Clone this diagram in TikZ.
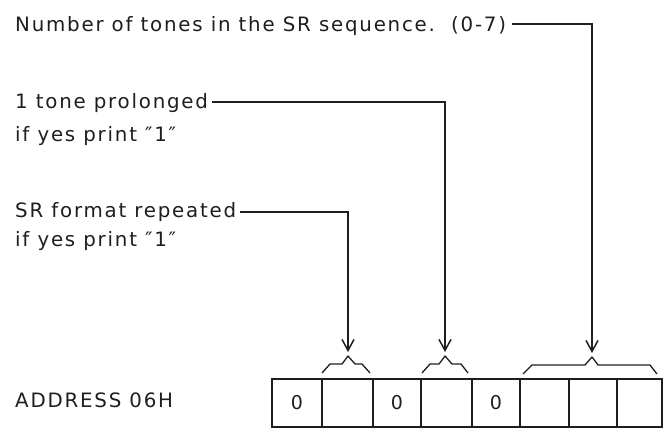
\documentclass[tikz,border=0pt]{standalone}
\usepackage{fontspec}
\setmainfont[LetterSpace=9,Ligatures=ResetAll]{DejaVu Sans}
\usetikzlibrary{arrows.meta}
\definecolor{ink}{HTML}{1E1E1E}
\newcommand{\dqm}{\symbol{"2033}}
\begin{document}
\begin{tikzpicture}[x=1pt,y=-1pt,
  lbl/.style={anchor=base west,inner sep=0pt,text=ink,font=\fontsize{19.8}{22}\selectfont},
  cell/.style={draw=ink,line width=1.6pt,minimum height=48pt,anchor=north west,inner sep=0pt,text=ink,font=\fontsize{19}{20}\selectfont},
  lead/.style={draw=ink,line width=1.5pt,-{Straight Barb[length=11pt,width=12pt,line width=1.5pt]}},
  brace/.style={draw=ink,line width=1.3pt,line join=round}]
\useasboundingbox (0,0) rectangle (670,428);
% labels
\node[lbl] (t1) at (15,32) {Number of tones in the SR sequence.\ \ (0-7)};
\node[lbl] (t2) at (15,109) {1 tone prolonged};
\node[lbl] (t2b) at (15,141) {if yes print \dqm1\dqm};
\node[lbl] (t3) at (15,217) {SR format repeated};
\node[lbl] (t3b) at (15,246) {if yes print \dqm1\dqm};
\node[lbl] (addr) at (15,407) {ADDRESS 06H};
% register cells
\node[cell,minimum width=50pt] (c1) at (271,378) {0};
\node[cell,minimum width=51pt] (c2) at (321,378) {};
\node[cell,minimum width=48pt] (c3) at (372,378) {0};
\node[cell,minimum width=51pt] (c4) at (420,378) {};
\node[cell,minimum width=48pt] (c5) at (471,378) {0};
\node[cell,minimum width=49pt] (c6) at (519,378) {};
\node[cell,minimum width=48pt] (c7) at (568,378) {};
\node[cell,minimum width=45pt] (c8) at (616,378) {};
% braces
\draw[brace] (322,373) -- (330,364) -- (342,364) -- (348,356) coordinate (p1) -- (355,364) -- (362,364) -- (370,373);
\draw[brace] (422,373) -- (430,364) -- (439,364) -- (445,356) coordinate (p2) -- (452,364) -- (461,364) -- (468,373);
\draw[brace] (523,374) -- (532,365) -- (585,365) -- (592,357) coordinate (p3) -- (598,365) -- (650,365) -- (657,374);
\coordinate (a1) at ([yshift=4pt]p1);
\coordinate (a2) at ([yshift=4pt]p2);
\coordinate (a3) at ([yshift=4pt]p3);
% leaders
\draw[lead] ([xshift=6pt,yshift=8pt]t1.base east) -| (a3);
\draw[lead] ([xshift=4pt,yshift=7pt]t2.base east) -| (a2);
\draw[lead] ([xshift=4pt,yshift=5pt]t3.base east) -| (a1);
\end{tikzpicture}
\end{document}
